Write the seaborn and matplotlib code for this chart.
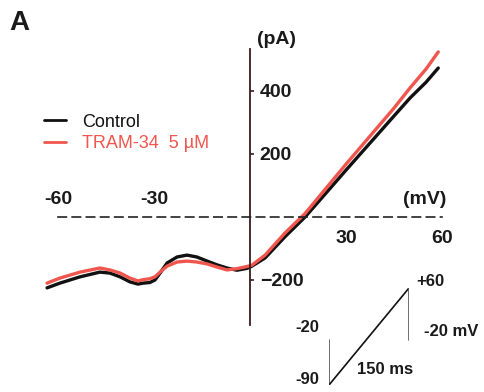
import os

os.environ.setdefault("MPLBACKEND", "Agg")

import matplotlib.pyplot as plt
import pandas as pd
import seaborn as sns

# I-V ramp currents
voltage_mv = [-63.4, -59.4, -53.1, -46.9, -43.8, -40.6, -37.5, -35.0, -33.4, -31.3,
              -29.7, -28.1, -25.9, -22.8, -19.7, -16.6, -13.4, -10.3, -7.2, -4.1,
              -0.9, 0.6, 4.7, 10.9, 17.2, 23.4, 30.0, 37.5, 45.0, 50.0, 55.0, 58.8]
control_pa = [-225, -210, -190, -175, -178, -190, -206, -213, -210, -208,
              -200, -178, -146, -127, -121, -127, -140, -152, -162, -169,
              -163, -156, -130, -63, 0, 72, 149, 235, 321, 378, 428, 473]
tram34_pa = [-210, -194, -175, -162, -168, -178, -194, -203, -199, -196,
             -190, -175, -156, -143, -140, -143, -149, -159, -168, -164,
             -157, -153, -121, -51, 11, 87, 168, 257, 346, 410, 470, 524]
conditions = ["Control", "TRAM-34  5 \u00b5M"]
colors = ["#111111", "#f0564e"]

x_ticks = [-60, -30, 30, 60]
y_ticks = [-200, 200, 400]

# voltage protocol (inset)
protocol_ms = [0, 0, 150, 150]
protocol_mv = [-20, -90, 60, -20]

W, H = 485, 392

df = pd.DataFrame({
    "V": voltage_mv * 2,
    "I": control_pa + tram34_pa,
    "cond": [conditions[0]] * len(voltage_mv) + [conditions[1]] * len(voltage_mv),
})

sns.set_style("white")
plt.rcParams["font.family"] = ["Liberation Sans", "DejaVu Sans"]

fig = plt.figure(figsize=(W / 100, H / 100), dpi=100)
ax = fig.add_axes([0, 0, 1, 1])
ax.patch.set_alpha(0)

sns.lineplot(data=df, x="V", y="I", hue="cond", palette=colors, sort=False,
             estimator=None, linewidth=2.4, ax=ax)

ax.set_xlim(-78.1, 73.4)
ax.set_ylim(-555.6, 688.9)
ax.set_xlabel("")
ax.set_ylabel("")

# axes through origin
ax.spines["top"].set_visible(False)
ax.spines["left"].set_visible(False)
axis_col = "#3a1c1c"
ax.spines["right"].set_position(("data", 0))
ax.spines["right"].set_bounds(-343, 533)
ax.spines["right"].set_color(axis_col)
ax.spines["right"].set_linewidth(1.3)
ax.spines["bottom"].set_position(("data", 0))
ax.spines["bottom"].set_bounds(-60, 60)
ax.spines["bottom"].set_linestyle((0, (5, 3.5)))
ax.spines["bottom"].set_color("#222222")
ax.spines["bottom"].set_linewidth(1.2)

ax.yaxis.tick_right()
ax.set_yticks(y_ticks)
ax.tick_params(axis="y", direction="out", length=3, width=1.2, color=axis_col,
               labelsize=14, pad=4, labelcolor="#1a1a1a")
for t in ax.get_yticklabels():
    t.set_fontweight("bold")

ax.set_xticks(x_ticks)
ax.tick_params(axis="x", direction="in", length=4, width=1.1, color="#222222",
               labelbottom=False)
for v in x_ticks:
    yy = 57 if v < 0 else -67
    ax.text(v, yy, str(v), ha="center", va="center", fontsize=14, fontweight="bold",
            color="#1a1a1a")
ax.text(54.7, 54, "(mV)", ha="center", va="center", fontsize=14, fontweight="bold",
        color="#1a1a1a")
ax.text(8.4, 562, "(pA)", ha="center", va="center", fontsize=14, fontweight="bold",
        color="#1a1a1a")

# legend
handles, labels = ax.get_legend_handles_labels()
leg = ax.legend(handles, labels, loc="center left", frameon=False,
                bbox_to_anchor=(44 / W, 1 - 133 / H), bbox_transform=fig.transFigure,
                fontsize=13, handlelength=1.2, handletextpad=0.9, labelspacing=0.25,
                borderpad=0, borderaxespad=0)
for txt, c in zip(leg.get_texts(), colors):
    txt.set_color(c)
for line in leg.get_lines():
    line.set_linewidth(2.0)

fig.text(19 / W, 1 - 22.5 / H, "A", ha="center", va="center", fontsize=20,
         fontweight="bold", color="#1a1a1a")

# stimulus protocol inset
ins = fig.add_axes([329 / W, 1 - 385 / H, 80 / W, 97 / H])
ins.set_xlim(0, 150)
ins.set_ylim(-90, 60)
ins.axis("off")
ins.patch.set_alpha(0)
sns.lineplot(x=protocol_ms[0:2], y=protocol_mv[0:2], sort=False, estimator=None,
             color="#555555", linewidth=1.2, ax=ins)
sns.lineplot(x=protocol_ms[1:3], y=protocol_mv[1:3], sort=False, estimator=None,
             color="#111111", linewidth=1.2, ax=ins)
sns.lineplot(x=protocol_ms[2:4], y=protocol_mv[2:4], sort=False, estimator=None,
             color="#555555", linewidth=1.2, ax=ins)


def ftext(x, y, s, ha="center"):
    fig.text(x / W, 1 - y / H, s, ha=ha, va="center", fontsize=12,
             fontweight="bold", color="#1a1a1a")


ftext(307, 327, "-20")
ftext(307, 380, "-90")
ftext(430, 282, "+60")
ftext(451, 332, "-20 mV")
ftext(385, 370, "150 ms")

fig.savefig("out.png", dpi=100)
